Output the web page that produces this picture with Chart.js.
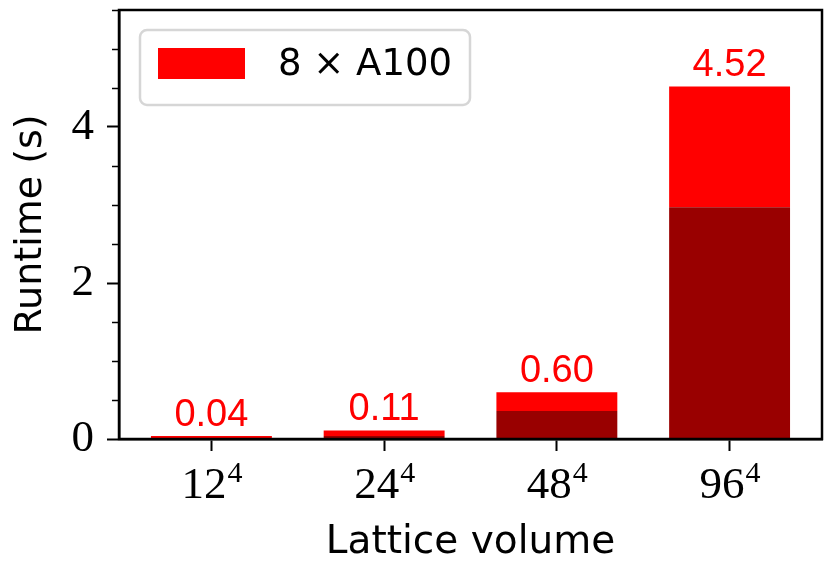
<!DOCTYPE html>
<html>
<head>
<meta charset="utf-8">
<script src="https://cdn.jsdelivr.net/npm/chart.js@4.4.0/dist/chart.umd.min.js"></script>
<style>
  html, body { margin: 0; padding: 0; background: #fff; }
  #wrap { width: 832px; height: 572px; }
</style>
</head>
<body>
<div id="wrap"><canvas id="chart"></canvas></div>
<script>
const tickBases = ['12', '24', '48', '96'];
const tickExponent = '4';
const totalRuntime = [0.04, 0.11, 0.60, 4.52];
const baseRuntime = [0.01, 0.04, 0.36, 2.97];
const yMajorTicks = [0, 2, 4];
const yMinorStep = 0.5;
const legendLabel = '8 × A100';

const RED = '#ff0000';
const DARK = '#990000';
const SANS = "'DejaVu Sans', sans-serif";
const SERIF = "'Liberation Serif', serif";

// red part on top of the dark part
const topRuntime = totalRuntime.map((t, i) => +(t - baseRuntime[i]).toFixed(2));

// frame on all four sides + minor ticks on y
const framePlugin = {
    id: 'frame',
    afterDraw(chart) {
        const { ctx, chartArea: a, scales: { y } } = chart;
        ctx.save();
        ctx.strokeStyle = '#000';
        ctx.lineWidth = 2.5;
        ctx.strokeRect(a.left, a.top, a.right - a.left, a.bottom - a.top);
        ctx.lineWidth = 1.5;
        for (let v = yMinorStep; v <= y.max + 1e-9; v += yMinorStep) {
            if (yMajorTicks.includes(v)) continue;
            const py = Math.round(y.getPixelForValue(v)) + 0.5;
            ctx.beginPath();
            ctx.moveTo(a.left - 7, py);
            ctx.lineTo(a.left, py);
            ctx.stroke();
        }
        ctx.restore();
    }
};

// x tick labels with superscript exponent
const xLabelPlugin = {
    id: 'xLabels',
    afterDraw(chart) {
        const { ctx, chartArea: a, scales: { x } } = chart;
        ctx.save();
        ctx.fillStyle = '#000';
        ctx.textBaseline = 'alphabetic';
        ctx.textAlign = 'left';
        tickBases.forEach((b, i) => {
            const px = x.getPixelForValue(i);
            ctx.font = `45px ${SERIF}`;
            const bw = ctx.measureText(b).width;
            ctx.font = `30px ${SERIF}`;
            const ew = ctx.measureText(tickExponent).width;
            const left = px - (bw + ew) / 2;
            const base = a.bottom + 59;
            ctx.font = `45px ${SERIF}`;
            ctx.fillText(b, left, base);
            ctx.font = `30px ${SERIF}`;
            ctx.fillText(tickExponent, left + bw + 1, base - 16);
        });
        ctx.restore();
    }
};

// value labels above bars + legend box
const labelPlugin = {
    id: 'valueLabels',
    afterDatasetsDraw(chart) {
        const { ctx, chartArea: a } = chart;
        const meta = chart.getDatasetMeta(1);
        ctx.save();
        ctx.fillStyle = RED;
        ctx.font = `38px 'Liberation Sans', sans-serif`;
        ctx.textAlign = 'center';
        ctx.textBaseline = 'alphabetic';
        meta.data.forEach((bar, i) => {
            ctx.fillText(totalRuntime[i].toFixed(2), bar.x, bar.y - 10);
        });

        // legend
        const ds = chart.data.datasets.filter(d => !d.label.startsWith('_'));
        ctx.font = `37px ${SANS}`;
        const tw = Math.max(...ds.map(d => ctx.measureText(d.label).width));
        const bx = a.left + 21, by = a.top + 20;
        const bw = 18 + 87 + 33 + tw + 18, bh = 75;
        ctx.beginPath();
        ctx.roundRect(bx, by, bw, bh, 7);
        ctx.fillStyle = 'rgba(255,255,255,0.8)';
        ctx.fill();
        ctx.strokeStyle = '#d6d6d6';
        ctx.lineWidth = 2.5;
        ctx.stroke();
        ds.forEach((d, i) => {
            ctx.fillStyle = d.backgroundColor;
            ctx.fillRect(bx + 18, by + 18 + i * 40, 87, 31);
            ctx.fillStyle = '#000';
            ctx.textAlign = 'left';
            ctx.textBaseline = 'middle';
            ctx.fillText(d.label, bx + 18 + 87 + 33, by + 35 + i * 40);
        });
        ctx.restore();
    }
};

new Chart(document.getElementById('chart').getContext('2d'), {
    type: 'bar',
    data: {
        datasets: [
            {
                label: '_base',
                data: baseRuntime.map((v, i) => ({ x: i, y: v })),
                backgroundColor: DARK,
                borderWidth: 0
            },
            {
                label: legendLabel,
                data: topRuntime.map((v, i) => ({ x: i, y: v })),
                backgroundColor: RED,
                borderWidth: 0
            }
        ]
    },
    options: {
        responsive: true,
        maintainAspectRatio: false,
        animation: false,
        categoryPercentage: 1,
        barPercentage: 0.7,
        layout: { padding: { left: 0, right: 10, top: 10, bottom: 0 } },
        plugins: {
            legend: { display: false },
            tooltip: { enabled: false }
        },
        scales: {
            x: {
                type: 'linear',
                stacked: true,
                offset: false,
                min: -0.535,
                max: 3.535,
                afterBuildTicks: s => { s.ticks = tickBases.map((b, i) => ({ value: i })); },
                ticks: { display: false },
                grid: { offset: false, drawOnChartArea: false, tickLength: 12, tickWidth: 2, tickColor: '#000' },
                border: { color: '#000', width: 2.5 },
                title: {
                    display: true,
                    text: 'Lattice volume',
                    color: '#000',
                    font: { family: SANS, size: 39 },
                    padding: { top: 0, bottom: 6 }
                },
                afterFit: s => { s.height = 133; s.paddingLeft = 0; s.paddingRight = 0; }
            },
            y: {
                stacked: true,
                min: 0,
                max: 5.5,
                afterBuildTicks: s => { s.ticks = yMajorTicks.map(v => ({ value: v })); },
                ticks: {
                    color: '#000',
                    font: { family: SERIF, size: 45 },
                    padding: 13,
                    callback: v => String(v)
                },
                grid: { drawOnChartArea: false, tickLength: 12, tickWidth: 2, tickColor: '#000' },
                border: { color: '#000', width: 2.5 },
                title: {
                    display: true,
                    text: 'Runtime (s)',
                    color: '#000',
                    font: { family: SANS, size: 38 },
                    padding: { top: 8, bottom: 0 }
                },
                afterFit: s => { s.width = 119; s.paddingTop = 0; s.paddingBottom = 0; }
            }
        }
    },
    plugins: [framePlugin, xLabelPlugin, labelPlugin]
});
</script>
</body>
</html>
